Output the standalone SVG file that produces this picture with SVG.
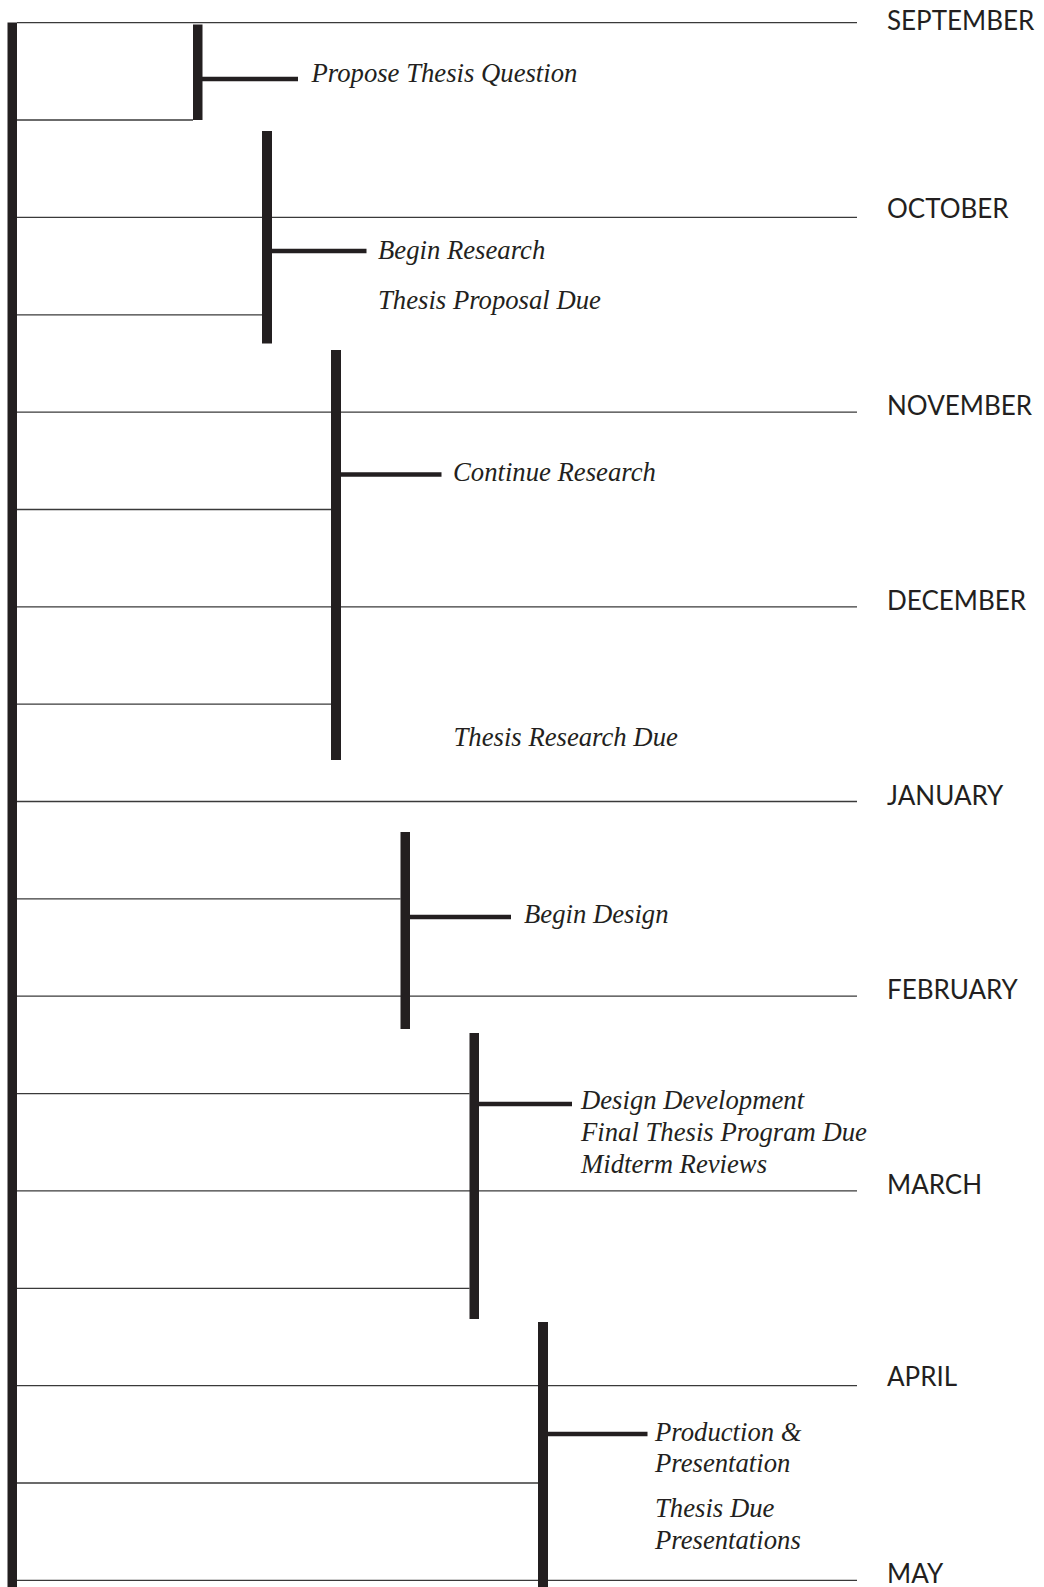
<svg xmlns="http://www.w3.org/2000/svg" width="1044" height="1587" viewBox="0 0 1044 1587">
<style>
.bg{fill:#ffffff}
.grid{stroke:#3a3a3a;stroke-width:1.3;fill:none}
.bar{fill:#231f20}
.tick{stroke:#231f20;stroke-width:4.5;fill:none}
.month{font-family:Lato,"Liberation Sans",sans-serif;font-size:26px;fill:#231f20}
.task{font-family:"Liberation Serif","Times New Roman",serif;font-style:italic;font-size:26.7px;fill:#231f20}
</style>
<rect class="bg" x="0" y="0" width="1044" height="1587"/>
<g id="connectors">
<line class="grid" x1="17" y1="22.7" x2="857" y2="22.7"/>
<line class="grid" x1="17" y1="120" x2="193" y2="120"/>
<line class="grid" x1="17" y1="217.4" x2="857" y2="217.4"/>
<line class="grid" x1="17" y1="314.8" x2="262" y2="314.8"/>
<line class="grid" x1="17" y1="412.1" x2="857" y2="412.1"/>
<line class="grid" x1="17" y1="509.5" x2="331" y2="509.5"/>
<line class="grid" x1="17" y1="606.8" x2="857" y2="606.8"/>
<line class="grid" x1="17" y1="704.2" x2="331" y2="704.2"/>
<line class="grid" x1="17" y1="801.5" x2="857" y2="801.5"/>
<line class="grid" x1="17" y1="898.9" x2="400.5" y2="898.9"/>
<line class="grid" x1="17" y1="996.2" x2="857" y2="996.2"/>
<line class="grid" x1="17" y1="1093.6" x2="469.5" y2="1093.6"/>
<line class="grid" x1="17" y1="1190.9" x2="857" y2="1190.9"/>
<line class="grid" x1="17" y1="1288.3" x2="469.5" y2="1288.3"/>
<line class="grid" x1="17" y1="1385.6" x2="857" y2="1385.6"/>
<line class="grid" x1="17" y1="1483" x2="538" y2="1483"/>
<line class="grid" x1="17" y1="1580.3" x2="857" y2="1580.3"/>
<line class="tick" x1="202" y1="79" x2="298" y2="79"/>
<line class="tick" x1="271" y1="251" x2="366.5" y2="251"/>
<line class="tick" x1="340" y1="474.5" x2="441.5" y2="474.5"/>
<line class="tick" x1="409" y1="917" x2="511" y2="917"/>
<line class="tick" x1="478" y1="1104" x2="572" y2="1104"/>
<line class="tick" x1="547" y1="1434" x2="647.5" y2="1434"/>
</g>
<g id="timeline">
<rect class="bar" x="7.5" y="22.5" width="9.5" height="1565"/>
</g>
<g id="months">
<text class="month" x="887" y="29.5">SEPTEMBER</text>
<text class="month" x="887" y="217.8">OCTOBER</text>
<text class="month" x="887" y="415">NOVEMBER</text>
<text class="month" x="887" y="610">DECEMBER</text>
<text class="month" x="887" y="804.5">JANUARY</text>
<text class="month" x="887" y="999">FEBRUARY</text>
<text class="month" x="887" y="1194">MARCH</text>
<text class="month" x="887" y="1386">APRIL</text>
<text class="month" x="887" y="1583">MAY</text>
</g>
<g id="phase-1">
<rect class="bar" x="193" y="24.5" width="9.5" height="95.5"/>
<text class="task" x="311.5" y="81.7">Propose Thesis Question</text>
</g>
<g id="phase-2">
<rect class="bar" x="262" y="131" width="10" height="212.5"/>
<text class="task" x="378" y="258.5">Begin Research</text>
<text class="task" x="378" y="309.3">Thesis Proposal Due</text>
</g>
<g id="phase-3">
<rect class="bar" x="331" y="350" width="10" height="410"/>
<text class="task" x="453" y="480.5">Continue Research</text>
<text class="task" x="453.5" y="745.5">Thesis Research Due</text>
</g>
<g id="phase-4">
<rect class="bar" x="400.5" y="832" width="9.5" height="197"/>
<text class="task" x="524" y="922.8">Begin Design</text>
</g>
<g id="phase-5">
<rect class="bar" x="469.5" y="1033" width="9.5" height="286"/>
<text class="task" x="581" y="1109">Design Development</text>
<text class="task" x="581" y="1141">Final Thesis Program Due</text>
<text class="task" x="581" y="1173">Midterm Reviews</text>
</g>
<g id="phase-6">
<rect class="bar" x="538" y="1322" width="10" height="265"/>
<text class="task" x="655" y="1441">Production &amp;</text>
<text class="task" x="655" y="1472.3">Presentation</text>
<text class="task" x="655" y="1517.3">Thesis Due</text>
<text class="task" x="655" y="1549">Presentations</text>
</g>
</svg>
